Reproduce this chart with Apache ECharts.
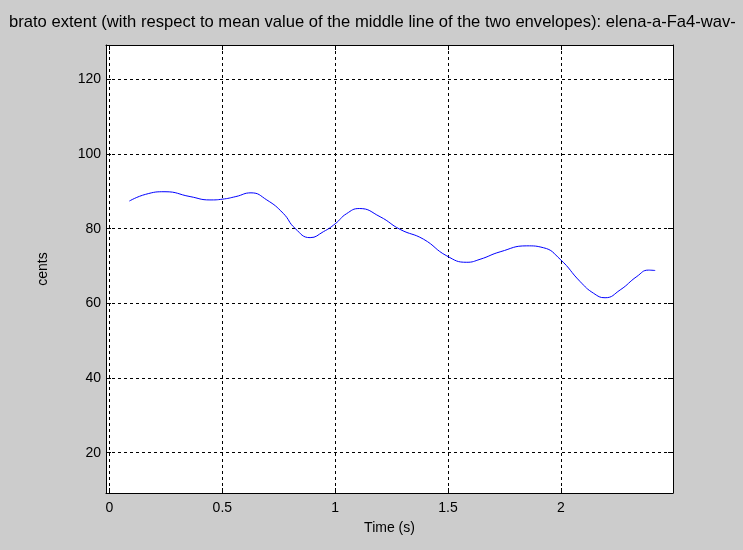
<!DOCTYPE html>
<html>
<head>
    <meta charset="utf-8">
    <script src="https://cdn.jsdelivr.net/npm/echarts@6/dist/echarts.min.js"></script>
    <title>Vibrato extent</title>
</head>
<body style="margin:0;background:#cccccc;">
    <div id="main" style="width:743px;height:550px;"></div>
    <script type="text/javascript">
        // values
        var times = [0.088, 0.16, 0.246, 0.357, 0.445, 0.5, 0.56, 0.627, 0.697, 0.77, 0.822, 0.889, 0.948,
            1.0, 1.05, 1.107, 1.199, 1.288, 1.391, 1.495, 1.583, 1.642, 1.731, 1.849, 1.923, 1.997,
            2.086, 2.145, 2.196, 2.263, 2.337, 2.388, 2.418];
        var cents = [87.4, 89.2, 89.9, 88.6, 87.7, 87.9, 88.6, 89.6, 87.7, 84.1, 80.1, 77.6, 79.2,
            81.3, 84.0, 85.4, 83.2, 79.8, 77.2, 72.7, 71.0, 71.8, 73.8, 75.4, 74.9, 71.8,
            65.8, 62.7, 61.5, 63.6, 67.2, 68.9, 68.8];

        var titleText = 'brato extent (with respect to mean value of the middle line of the two envelopes): elena-a-Fa4-wav-';
        var xName = 'Time (s)';
        var yName = 'cents';

        var points = [];
        for (var i = 0; i < times.length; i++) {
            points.push([times[i], cents[i]]);
        }

        var dash = { color: '#000', width: 1, type: [3, 3] };
        var black = { color: '#000', width: 1 };
        var font = 'Liberation Sans, Arial, sans-serif';

        function xLabel(v) {
            return Math.abs(v * 2 - Math.round(v * 2)) < 1e-6 ? String(+v.toFixed(1)) : '';
        }
        function yLabel(v) {
            return Math.abs(v / 20 - Math.round(v / 20)) < 1e-6 ? String(Math.round(v)) : '';
        }

        var myChart = echarts.init(document.getElementById('main'));
        myChart.setOption({
            backgroundColor: '#cccccc',
            animation: false,
            title: {
                text: titleText,
                left: 4,
                top: 9,
                textStyle: { fontSize: 16.6, fontWeight: 'normal', color: '#000', fontFamily: font }
            },
            grid: {
                left: 106,
                right: 70,
                top: 45,
                bottom: 57,
                show: true,
                backgroundColor: '#fff',
                borderWidth: 0
            },
            xAxis: [{
                type: 'value',
                position: 'bottom',
                min: -0.0155,
                max: 2.497,
                splitNumber: 5,
                name: xName,
                nameLocation: 'middle',
                nameGap: 28,
                nameTextStyle: { color: '#000', fontSize: 14, fontFamily: font },
                axisLine: { show: true, onZero: false, lineStyle: black },
                axisTick: { show: true, inside: true, length: 5, lineStyle: black },
                axisLabel: { color: '#000', fontSize: 14, fontFamily: font, margin: 8, formatter: xLabel,
                    showMinLabel: false, showMaxLabel: false },
                splitLine: { show: true, lineStyle: dash }
            }, {
                type: 'value',
                position: 'top',
                min: -0.0155,
                max: 2.497,
                splitNumber: 5,
                axisLine: { show: true, onZero: false, lineStyle: black },
                axisTick: { show: true, inside: true, length: 5, lineStyle: black },
                axisLabel: { show: false },
                splitLine: { show: false }
            }],
            yAxis: [{
                type: 'value',
                position: 'left',
                min: 9.2,
                max: 129.2,
                splitNumber: 6,
                name: yName,
                nameLocation: 'middle',
                nameGap: 56,
                nameTextStyle: { color: '#000', fontSize: 14, fontFamily: font },
                axisLine: { show: true, onZero: false, lineStyle: black },
                axisTick: { show: true, inside: true, length: 5, lineStyle: black },
                axisLabel: { color: '#000', fontSize: 14, fontFamily: font, margin: 5, formatter: yLabel,
                    showMinLabel: false, showMaxLabel: false },
                splitLine: { show: true, lineStyle: dash }
            }, {
                type: 'value',
                position: 'right',
                min: 9.2,
                max: 129.2,
                splitNumber: 6,
                axisLine: { show: true, onZero: false, lineStyle: black },
                axisTick: { show: true, inside: true, length: 5, lineStyle: black },
                axisLabel: { show: false },
                splitLine: { show: false }
            }],
            series: [{
                type: 'line',
                data: points,
                xAxisIndex: 0,
                yAxisIndex: 0,
                smooth: true,
                showSymbol: false,
                lineStyle: { color: '#0000ff', width: 1 }
            }]
        });
    </script>
</body>
</html>
